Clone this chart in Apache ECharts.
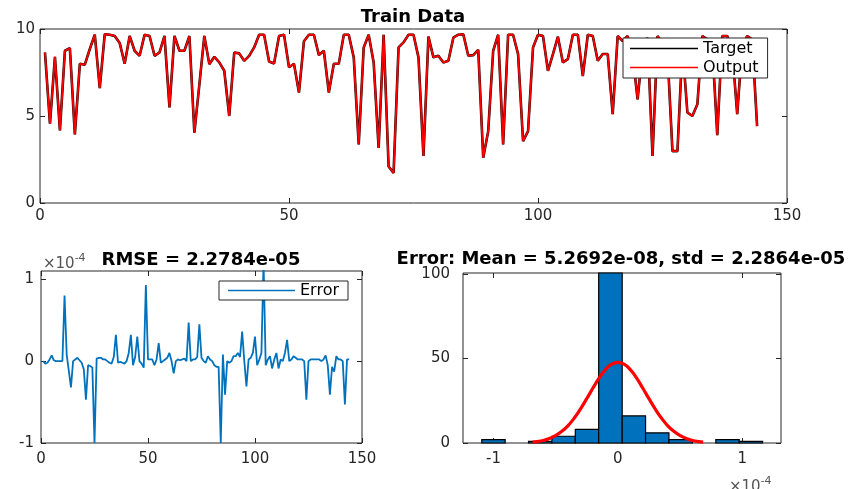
<!DOCTYPE html>
<html><head><meta charset="utf-8">
<script src="https://cdn.jsdelivr.net/npm/echarts@6/dist/echarts.min.js"></script>
<style>html,body{margin:0;padding:0;background:#fff}#c{width:852px;height:489px}</style>
</head><body><div id="c"></div>
<script>
// ---- data ----
const targetValues = [8.65,4.56,8.4,4.17,8.75,8.9,3.94,8.0,7.95,8.85,9.67,6.6,9.7,9.67,9.6,9.2,8.0,9.6,8.75,8.46,
9.67,9.6,8.46,8.65,9.6,5.5,9.6,8.75,8.75,9.6,4.04,6.8,9.6,7.98,8.4,8.08,7.6,5.0,8.65,8.6,
8.17,8.46,8.94,9.67,9.67,8.13,8.02,9.6,9.67,7.8,8.0,6.35,9.3,9.67,9.67,8.5,8.75,6.35,8.0,8.0,
9.67,9.67,8.37,3.37,8.94,9.67,8.08,3.17,9.67,2.1,1.73,8.94,9.23,9.67,9.67,8.37,2.7,9.56,8.37,8.46,
8.08,8.17,9.5,9.67,9.7,8.46,8.5,8.8,2.6,4.13,8.75,9.67,3.37,9.67,9.67,8.56,3.56,4.13,8.94,9.67,
9.6,7.6,8.56,9.56,8.08,8.27,9.67,9.67,7.3,9.67,9.6,8.17,8.56,8.56,5.1,9.6,9.3,9.6,8.5,5.96,
8.8,9.5,2.7,9.6,9.2,8.6,2.98,2.98,9.0,5.2,5.0,5.67,9.6,9.4,9.0,3.9,9.6,9.6,8.8,5.1,
9.0,9.6,9.4,4.42];
const outputValues = [8.65,4.56,8.4,4.17,8.75,8.9,3.94,8.0,7.95,8.85,9.67,6.6,9.7,9.67,9.6,9.2,8.0,9.6,8.75,8.46,
9.67,9.6,8.46,8.65,9.6,5.5,9.6,8.75,8.75,9.6,4.04,6.8,9.6,7.98,8.4,8.08,7.6,5.0,8.65,8.6,
8.17,8.46,8.94,9.67,9.67,8.13,8.02,9.6,9.67,7.8,8.0,6.35,9.3,9.67,9.67,8.5,8.75,6.35,8.0,8.0,
9.67,9.67,8.37,3.37,8.94,9.67,8.08,3.17,9.67,2.1,1.73,8.94,9.23,9.67,9.67,8.37,2.7,9.56,8.37,8.46,
8.08,8.17,9.5,9.67,9.7,8.46,8.5,8.8,2.6,4.13,8.75,9.67,3.37,9.67,9.67,8.56,3.56,4.13,8.94,9.67,
9.6,7.6,8.56,9.56,8.08,8.27,9.67,9.67,7.3,9.67,9.6,8.17,8.56,8.56,5.1,9.6,9.3,9.6,8.5,5.96,
8.8,9.5,2.7,9.6,9.2,8.6,2.98,2.98,9.0,5.2,5.0,5.67,9.6,9.4,9.0,3.9,9.6,9.6,8.8,5.1,
9.0,9.6,9.4,4.42];
// error, in units of 1e-4
const errorValues = [0,-0.03,-0.02,0.02,0.07,0.01,0,0,0,0,0.8,0.08,-0.12,-0.32,0,0.02,0.04,0.01,-0.02,-0.1,
-0.47,-0.05,-0.06,-0.08,-1.0,0.03,0.04,0.04,0.02,0.02,0,-0.02,-0.03,0.05,0.32,-0.02,-0.01,-0.02,-0.03,0,
0.1,0.32,-0.05,0.05,0.3,0,-0.03,-0.08,0.93,0.02,0.02,0.02,-0.05,0.02,0.22,-0.02,0,0.02,0.04,0.1,
0,-0.15,0,0.02,0.01,0.02,0.03,0,0.47,0,0.02,0.02,0.05,0.45,0.04,0,-0.02,0.06,0.02,0,
-0.05,-0.07,-0.07,-1.0,0.08,-0.41,0,-0.02,0,0.06,0.06,0.1,0.05,0.36,0,-0.31,0.02,0.04,0.1,0.3,
-0.05,0.02,0.1,1.2,-0.05,0.02,0.06,-0.09,0.02,0.1,-0.09,0.02,0,0.1,0.26,0,0.02,0.06,0.04,0.02,
0.02,0.02,0,-0.47,0,0.02,0.02,0.02,0.02,0.02,0,0.02,0.07,-0.05,-0.41,-0.07,-0.13,0.06,0.02,0.02,
0,-0.53,0.02,0.02];
// histogram (x in units of 1e-4)
const binEdges = [-1.094,-0.906,-0.718,-0.530,-0.342,-0.154,0.035,0.223,0.411,0.600,0.788,0.976,1.164];
const binCounts = [2,0,1,4,8,102,16,6,2,0,2,1];
const fitX = [-0.686,-0.65,-0.6,-0.55,-0.5,-0.45,-0.4,-0.35,-0.3,-0.25,-0.2,-0.15,-0.1,-0.05,0,0.05,0.1,0.15,0.2,0.25,0.3,0.35,0.4,0.45,0.5,0.55,0.6,0.65,0.686];
const fitY = [0.5,0.8,1.5,2.6,4.4,6.9,10.3,14.8,20.2,26.2,32.5,38.5,43.4,46.6,47.7,46.6,43.4,38.5,32.5,26.2,20.2,14.8,10.3,6.9,4.4,2.6,1.5,0.8,0.5];
const errYTicks = [-1,0,1];
const histXTicks = [-1,0,1];
const histYTicks = [0,50,100];
const titles = ['Train Data','RMSE = 2.2784e-05','Error: Mean = 5.2692e-08, std = 2.2864e-05'];

// ---- chart ----
const F = "'DejaVu Sans', sans-serif";
const AX = '#262626';
const chart = echarts.init(document.getElementById('c'), null, {renderer:'canvas'});

function ax(kind, grid, min, max, interval, labelValues, margin, mirror, tickValues){
  const pos = kind === 'x' ? (mirror ? 'top' : 'bottom') : (mirror ? 'right' : 'left');
  const a = {type:'value', gridIndex:grid, min:min, max:max, position:pos,
    axisLine:{show:false, onZero:false}, splitLine:{show:false},
    axisTick:{show:true, inside:true, length:5, lineStyle:{color:AX}},
    axisLabel:{show:!mirror, margin:margin, fontFamily:F, fontSize:15, color:AX}};
  if (interval != null) a.interval = interval;
  if (labelValues) a.axisLabel.customValues = labelValues;
  if (tickValues) a.axisTick.customValues = tickValues;
  return a;
}
const gridStyle = {show:true, borderColor:AX, borderWidth:1, backgroundColor:'transparent'};

const option = {
  animation:false,
  grid:[
    Object.assign({left:40, top:29, width:747, height:174}, gridStyle),
    Object.assign({left:41, top:271, width:321, height:172}, gridStyle),
    Object.assign({left:463, top:273, width:318, height:170}, gridStyle)
  ],
  xAxis:[
    ax('x',0,0,150,50,null,6,false,null), ax('x',0,0,150,50,null,6,true,null),
    ax('x',1,0,150,50,null,9,false,null), ax('x',1,0,150,50,null,9,true,null),
    ax('x',2,-1.245,1.312,null,histXTicks,9,false,histXTicks), ax('x',2,-1.245,1.312,null,histXTicks,9,true,histXTicks)
  ],
  yAxis:[
    ax('y',0,0,10,5,null,5,false,null), ax('y',0,0,10,5,null,5,true,null),
    ax('y',1,-1,1.1,null,errYTicks,7,false,errYTicks), ax('y',1,-1,1.1,null,errYTicks,7,true,errYTicks),
    ax('y',2,0,100.5,null,histYTicks,13,false,histYTicks), ax('y',2,0,100.5,null,histYTicks,13,true,histYTicks)
  ],
  legend:[
    {data:['Target','Output'], orient:'vertical', left:623, top:38, icon:'rect', itemWidth:68, itemHeight:1.5,
     itemGap:2, padding:[2,9,2,7], backgroundColor:'#fff', borderColor:AX, borderWidth:1, borderRadius:0,
     selectedMode:false, textStyle:{fontFamily:F, fontSize:16, color:'#000', lineHeight:17}},
    {data:['Error'], orient:'vertical', left:219, top:281, icon:'rect', itemWidth:67, itemHeight:1.5,
     padding:[1,9,1,9], backgroundColor:'#fff', borderColor:AX, borderWidth:1, borderRadius:0,
     selectedMode:false, textStyle:{fontFamily:F, fontSize:16, color:'#000', lineHeight:17}}
  ],
  series:[
    {name:'Target', type:'line', xAxisIndex:0, yAxisIndex:0, symbol:'none', color:'#000',
     lineStyle:{width:2.6, color:'#1a0000'}, data: targetValues.map((v,i)=>[i+1,v])},
    {name:'Output', type:'line', xAxisIndex:0, yAxisIndex:0, symbol:'none', color:'#ff0000',
     lineStyle:{width:1.8, color:'#ff0000'}, data: outputValues.map((v,i)=>[i+1,v])},
    {name:'Error', type:'line', xAxisIndex:2, yAxisIndex:2, symbol:'none', color:'#0072BD', clip:true,
     lineStyle:{width:1.8, color:'#0072BD'}, data: errorValues.map((v,i)=>[i+1,v])},
    {name:'hist', type:'custom', xAxisIndex:4, yAxisIndex:4,
     data: binCounts.map((c,i)=>[binEdges[i], binEdges[i+1], c]),
     renderItem:function(params, api){
       const c = api.value(2);
       if(!c) return null;
       const p0 = api.coord([api.value(0), 0]);
       const p1 = api.coord([api.value(1), c]);
       const shape = echarts.graphic.clipRectByRect(
         {x:p0[0], y:p1[1], width:p1[0]-p0[0], height:p0[1]-p1[1]},
         {x:params.coordSys.x, y:params.coordSys.y, width:params.coordSys.width, height:params.coordSys.height});
       return shape && {type:'rect', shape:shape, style:{fill:'#0072BD', stroke:'#000', lineWidth:1.2}};
     }},
    {name:'fit', type:'line', xAxisIndex:4, yAxisIndex:4, symbol:'none', smooth:true, color:'#ff0000',
     lineStyle:{width:3.2, color:'#ff0000'}, data: fitX.map((x,i)=>[x, fitY[i]]), z:3}
  ],
  graphic:[
    {type:'text', x:413, y:17, style:{text:titles[0], fontFamily:F, fontWeight:'bold', fontSize:18, fill:'#000', align:'center', verticalAlign:'middle'}},
    {type:'text', x:201, y:260, style:{text:titles[1], fontFamily:F, fontWeight:'bold', fontSize:18, fill:'#000', align:'center', verticalAlign:'middle'}},
    {type:'text', x:621, y:259, style:{text:titles[2], fontFamily:F, fontWeight:'bold', fontSize:18, fill:'#000', align:'center', verticalAlign:'middle'}},
    {type:'text', x:43, y:253, style:{text:'{a|×10}{b|-4}', rich:{a:{fontFamily:F, fontSize:15, fill:'#555', verticalAlign:'bottom'}, b:{fontFamily:F, fontSize:11, fill:'#555', verticalAlign:'top', padding:[0,0,8,0]}}}},
    {type:'text', x:729, y:476, style:{text:'{a|×10}{b|-4}', rich:{a:{fontFamily:F, fontSize:15, fill:'#555', verticalAlign:'bottom'}, b:{fontFamily:F, fontSize:11, fill:'#555', verticalAlign:'top', padding:[0,0,8,0]}}}}
  ]
};
chart.setOption(option);
</script></body></html>
